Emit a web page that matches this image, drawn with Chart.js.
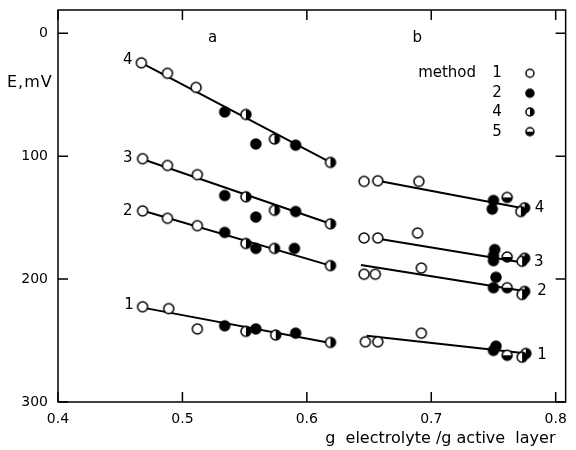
<!DOCTYPE html>
<html>
<head>
<meta charset="utf-8">
<script src="https://cdn.jsdelivr.net/npm/chart.js@4"></script>
<style>
  body { margin: 0; background: #fff; }
</style>
</head>
<body>
<canvas id="myChart" width="576" height="450"></canvas>
<script>
// measured points, [x, E in mV], grouped by method
let method1 = [
  [0.467, 24], [0.488, 32.5], [0.511, 44],
  [0.468, 102], [0.488, 107.5], [0.512, 115],
  [0.468, 144.5], [0.488, 150.5], [0.512, 156.5],
  [0.468, 222.5], [0.489, 224], [0.512, 240.5],
  [0.646, 120.5], [0.657, 120], [0.690, 120.5],
  [0.646, 166.5], [0.657, 166.5], [0.689, 162.5],
  [0.646, 196], [0.655, 196], [0.692, 191],
  [0.647, 251], [0.657, 251], [0.692, 244]
]
let method2 = [
  [0.534, 64], [0.559, 90], [0.591, 91],
  [0.534, 132], [0.559, 149.5], [0.591, 145],
  [0.534, 162], [0.559, 175], [0.590, 175],
  [0.534, 238], [0.559, 240.5], [0.591, 244],
  [0.750, 136], [0.749, 143],
  [0.751, 176], [0.750, 181], [0.750, 185],
  [0.752, 198.5], [0.750, 207],
  [0.752, 254.5], [0.750, 258]
]
let method4 = [
  [0.551, 66], [0.574, 86], [0.619, 105],
  [0.551, 133], [0.574, 144], [0.619, 155],
  [0.551, 171], [0.574, 175], [0.619, 189],
  [0.551, 242.5], [0.575, 245.5], [0.619, 251.5],
  [0.775, 142], [0.772, 145],
  [0.775, 183], [0.773, 185.5],
  [0.775, 210], [0.773, 212.5],
  [0.776, 260.5], [0.773, 263.5]
]
let method5 = [
  [0.761, 133.5], [0.761, 182], [0.761, 207], [0.761, 262]
]

// fitted lines, [x1, y1, x2, y2]
let fitLines = [
  [0.467, 24, 0.619, 105],
  [0.467, 102, 0.619, 155],
  [0.467, 144, 0.619, 189],
  [0.467, 223, 0.619, 252],
  [0.657, 120, 0.777, 143],
  [0.660, 167.5, 0.777, 187],
  [0.6435, 188.5, 0.777, 210],
  [0.648, 246, 0.777, 260.5]
]

// text labels in data coordinates
let curveLabels = [
  ['4', 0.456, 22], ['3', 0.456, 101.5], ['2', 0.456, 144.5], ['1', 0.457, 221.5],
  ['4', 0.787, 142], ['3', 0.7865, 186], ['2', 0.789, 210], ['1', 0.789, 262],
  ['a', 0.5243, 4], ['b', 0.6887, 4]
]
let legendMethods = ['1', '2', '4', '5']
let legendY = [32.5, 48.7, 64, 80]

let xTicks = [0.4, 0.5, 0.6, 0.7, 0.8]
let yTicks = [0, 100, 200, 300]

let FONT = '"DejaVu Sans", sans-serif'

// marker images
function marker(kind, r){
  let c = document.createElement('canvas')
  let s = Math.ceil(2 * r + 4)
  c.width = s
  c.height = s
  let g = c.getContext('2d')
  let m = s / 2
  g.fillStyle = '#fff'
  g.beginPath()
  g.arc(m, m, r, 0, Math.PI * 2)
  g.fill()
  g.fillStyle = '#000'
  if(kind === 'filled'){
    g.beginPath()
    g.arc(m, m, r, 0, Math.PI * 2)
    g.fill()
  } else if(kind === 'right'){
    g.beginPath()
    g.moveTo(m, m)
    g.arc(m, m, r, -Math.PI / 2, Math.PI / 2)
    g.fill()
  } else if(kind === 'bottom'){
    g.beginPath()
    g.moveTo(m, m)
    g.arc(m, m, r, 0, Math.PI)
    g.fill()
  }
  g.strokeStyle = '#000'
  g.lineWidth = 1.5
  g.beginPath()
  g.arc(m, m, r, 0, Math.PI * 2)
  g.stroke()
  return c
}

let markers = {
  '1': marker('open', 5), '2': marker('filled', 5), '4': marker('right', 5), '5': marker('bottom', 5)
}
let smallMarkers = {
  '1': marker('open', 4), '2': marker('filled', 4), '4': marker('right', 4), '5': marker('bottom', 4)
}

function toPts(arr){
  return arr.map(p => ({x: p[0], y: p[1]}))
}

let datasets = []
let groups = [['1', method1], ['2', method2], ['4', method4], ['5', method5]]
groups.forEach(gr => {
  datasets.push({
    data: toPts(gr[1]),
    pointStyle: markers[gr[0]],
    pointRadius: 5,
    showLine: false,
    order: 1
  })
})
fitLines.forEach(l => {
  datasets.push({
    data: [{x: l[0], y: l[1]}, {x: l[2], y: l[3]}],
    showLine: true,
    borderColor: '#000',
    borderWidth: 2,
    pointRadius: 0,
    order: 2
  })
})

// frame, inward ticks and text labels
let decorations = {
  id: 'decorations',
  afterDraw(chart){
    let ctx = chart.ctx
    let xs = chart.scales.x
    let ys = chart.scales.y
    let a = chart.chartArea
    ctx.save()
    ctx.strokeStyle = '#000'
    ctx.lineWidth = 1.5
    ctx.strokeRect(a.left, a.top, a.right - a.left, a.bottom - a.top)

    ctx.beginPath()
    xTicks.forEach(v => {
      let px = xs.getPixelForValue(v)
      ctx.moveTo(px, a.bottom); ctx.lineTo(px, a.bottom - 10)
      ctx.moveTo(px, a.top); ctx.lineTo(px, a.top + 10)
    })
    yTicks.forEach(v => {
      let py = ys.getPixelForValue(v)
      ctx.moveTo(a.left, py); ctx.lineTo(a.left + 10, py)
      ctx.moveTo(a.right, py); ctx.lineTo(a.right - 10, py)
    })
    ctx.stroke()

    ctx.fillStyle = '#000'
    ctx.font = '15px ' + FONT
    ctx.textAlign = 'center'
    ctx.textBaseline = 'middle'
    curveLabels.forEach(t => {
      ctx.fillText(t[0], xs.getPixelForValue(t[1]), ys.getPixelForValue(t[2]))
    })

    // method legend
    ctx.textAlign = 'right'
    ctx.fillText('method', xs.getPixelForValue(0.736), ys.getPixelForValue(legendY[0]))
    legendMethods.forEach((m, i) => {
      let py = ys.getPixelForValue(legendY[i])
      ctx.textAlign = 'center'
      ctx.fillText(m, xs.getPixelForValue(0.7528), py)
      let img = smallMarkers[m]
      ctx.drawImage(img, xs.getPixelForValue(0.7793) - img.width / 2, py - img.height / 2)
    })

    // E,mV
    ctx.font = '16px ' + FONT
    ctx.letterSpacing = '1px'
    ctx.textAlign = 'left'
    ctx.fillText('E,mV', 7, ys.getPixelForValue(40.5))
    ctx.restore()
  }
}

new Chart("myChart", {
  type: "scatter",
  data: { datasets: datasets },
  options: {
    responsive: false,
    animation: false,
    layout: { padding: { left: 0, right: 9, top: 10, bottom: 0 } },
    plugins: {
      legend: { display: false },
      tooltip: { enabled: false }
    },
    scales: {
      x: {
        type: 'linear',
        min: 0.4,
        max: 0.808,
        afterBuildTicks: s => { s.ticks = xTicks.map(v => ({value: v})) },
        afterFit: s => { s.height = 48 },
        grid: { display: false, drawTicks: false },
        border: { display: false },
        ticks: {
          color: '#000',
          padding: 9,
          font: { family: FONT, size: 14 },
          callback: v => v.toFixed(1)
        },
        title: {
          display: true,
          text: 'g  electrolyte /g active  layer  ',
          align: 'end',
          color: '#000',
          padding: { top: 0, bottom: 2 },
          font: { family: FONT, size: 16 }
        }
      },
      y: {
        type: 'linear',
        reverse: true,
        min: -19,
        max: 300,
        afterBuildTicks: s => { s.ticks = yTicks.map(v => ({value: v})) },
        afterFit: s => {
          s.width = 58
          s.paddingTop = 0
          s.paddingBottom = 0
        },
        grid: { display: false, drawTicks: false },
        border: { display: false },
        ticks: {
          color: '#000',
          padding: 10,
          font: { family: FONT, size: 14 }
        }
      }
    }
  },
  plugins: [decorations]
})
</script>
</body>
</html>
